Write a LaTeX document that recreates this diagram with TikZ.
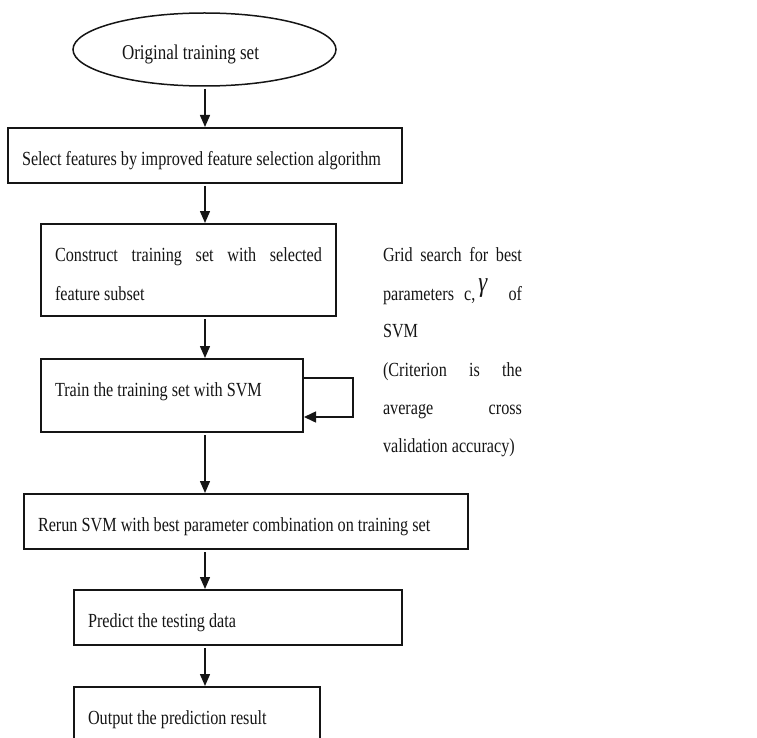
\documentclass[tikz,border=0pt]{standalone}
\usepackage{fontspec}
\setmainfont{Liberation Serif}[FakeStretch=0.81]
\usetikzlibrary{shapes.geometric,arrows.meta}
\definecolor{ink}{HTML}{151515}
\tikzset{
  box/.style={draw=ink, line width=1.5pt, rectangle, inner sep=0pt, outer sep=0pt},
  ell/.style={draw=ink, line width=1.5pt, ellipse, inner sep=0pt, outer sep=0pt},
  lbl/.style={anchor=base west, inner sep=0pt, outer sep=0pt, font=\fontsize{20pt}{24pt}\selectfont, text=ink},
  arr/.style={draw=ink, line width=1.5pt, -{Triangle[length=12pt,width=10pt]}, shorten <=3pt, shorten >=1pt},
  loopline/.style={draw=ink, line width=1.5pt, -{Triangle[length=12pt,width=11pt]}, shorten >=1pt}
}
\begin{document}
\begin{tikzpicture}[x=1pt,y=-1pt]
\useasboundingbox (0,0) rectangle (757,738);
\clip (0,0) rectangle (757,738);
% shapes
\node[ell, minimum width=263pt, minimum height=73pt] (e) at (204.5,49.5) {};
\node[box, minimum width=394pt, minimum height=55pt] (b1) at (205,155.5) {};
\node[box, minimum width=295pt, minimum height=92pt] (b2) at (188.5,270) {};
\node[box, minimum width=262pt, minimum height=73pt] (b3) at (172,395.5) {};
\node[box, minimum width=444pt, minimum height=55pt] (b4) at (246,521.5) {};
\node[box, minimum width=328pt, minimum height=55pt] (b5) at (238,617.5) {};
\node[box, minimum width=246pt, minimum height=80pt] (b6) at (197,727) {};
% texts
\node[lbl, font=\fontsize{21pt}{24pt}\selectfont] (t0) at (122,60) {Original training set};
\node[lbl] (t1) at (22,165.7) {Select features by improved feature selection algorithm};
\node[lbl] (t2a) at (55,261.7) {\makebox[267pt][s]{Construct training set with selected}};
\node[lbl] (t2b) at (55,300) {feature subset};
\node[lbl] (t3) at (55,396.7) {Train the training set with SVM};
\node[lbl] (t4) at (38,531.7) {Rerun SVM with best parameter combination on training set};
\node[lbl] (t5) at (88,627.3) {Predict the testing data};
\node[lbl] (t6) at (88,724.3) {Output the prediction result};
% side note
\node[lbl] (s1) at (383,261.7) {\makebox[139pt][s]{Grid search for best}};
\node[lbl] (s2) at (383,300) {\makebox[139pt][l]{parameters\hspace{10pt}c,\hspace{3pt}\raisebox{9pt}{\fontsize{28pt}{28pt}\selectfont\textit{γ}}\hfill of}};
\node[lbl] (s3) at (383,337.7) {SVM};
\node[lbl] (s4) at (383,376) {\makebox[139pt][s]{(Criterion is the}};
\node[lbl] (s5) at (383,414.5) {\makebox[139pt][s]{average cross}};
\node[lbl] (s6) at (383,452.3) {validation accuracy)};
% connectors
\draw[arr] (e.south -| b1.south) -- (b1.north);
\draw[arr] (b1.south) -- (b1.south |- b2.north);
\draw[arr] (b2.south -| b1.south) -- (b3.north -| b1.south);
\draw[arr] (b3.south -| b1.south) -- (b4.north -| b1.south);
\draw[arr] (b4.south -| b1.south) -- (b5.north -| b1.south);
\draw[arr] (b5.south -| b1.south) -- (b6.north -| b1.south);
\coordinate (l1) at (353,378);
\coordinate (l2) at (353,417);
\draw[loopline] (b3.east |- l1) -- (l1) -- (l2) -- (b3.east |- l2);
\end{tikzpicture}
\end{document}
